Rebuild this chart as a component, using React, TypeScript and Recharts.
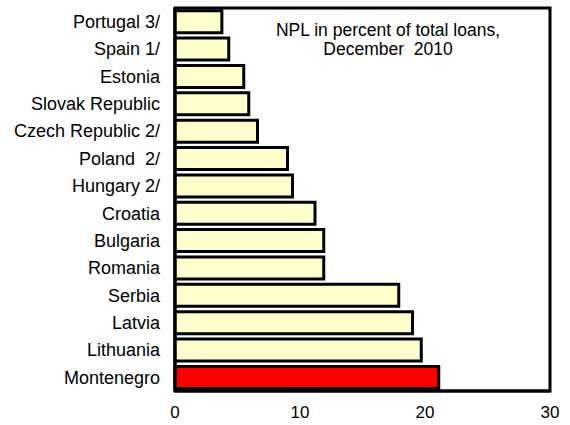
import React from "react";
import {
  Bar,
  BarChart,
  Cell,
  ReferenceArea,
  XAxis,
  YAxis,
} from "recharts";

const countries = [
  "Portugal 3/",
  "Spain 1/",
  "Estonia",
  "Slovak Republic",
  "Czech Republic 2/",
  "Poland\u00a0 2/",
  "Hungary 2/",
  "Croatia",
  "Bulgaria",
  "Romania",
  "Serbia",
  "Latvia",
  "Lithuania",
  "Montenegro",
];
const nplValues = [3.75, 4.3, 5.5, 5.9, 6.6, 9.0, 9.4, 11.2, 11.9, 11.9, 17.9, 19.0, 19.7, 21.1];
const xTicks = [0, 10, 20, 30];
const highlighted = "Montenegro";

const data = countries.map((country, i) => ({ country, npl: nplValues[i] }));

const font = "'Liberation Sans', Arial, sans-serif";

export default function App() {
  return (
    <div style={{ position: "absolute", left: 0, top: 0, width: 570, height: 425, background: "#fff", fontFamily: font }}>
      <BarChart
        width={570}
        height={425}
        data={data}
        layout="vertical"
        margin={{ top: 8, right: 20, bottom: 4, left: 10 }}
        barCategoryGap="10%"
      >
        <XAxis
          type="number"
          domain={[0, 30]}
          ticks={xTicks}
          height={30}
          axisLine={{ stroke: "#000", strokeWidth: 3 }}
          tickLine={{ stroke: "#000", strokeWidth: 2 }}
          tickSize={-4}
          tickMargin={19}
          tick={{ fill: "#000", fontSize: 17, fontFamily: font }}
        />
        <YAxis
          type="category"
          dataKey="country"
          width={165}
          axisLine={{ stroke: "#000", strokeWidth: 3 }}
          tickLine={false}
          tickMargin={9}
          interval={0}
          tick={{ fill: "#000", fontSize: 18, fontFamily: font }}
        />
        <ReferenceArea x1={0} x2={30} fill="none" stroke="#000" strokeWidth={3} ifOverflow="visible" />
        <Bar dataKey="npl" stroke="#000" strokeWidth={3} isAnimationActive={false}>
          {data.map((d) => (
            <Cell key={d.country} fill={d.country === highlighted ? "#FF0000" : "#FFFFCC"} />
          ))}
        </Bar>
      </BarChart>
      <div
        style={{
          position: "absolute",
          left: 238,
          top: 21,
          width: 300,
          textAlign: "center",
          fontSize: 17.5,
          lineHeight: "19px",
          color: "#000",
        }}
      >
        NPL in percent of total loans,
        <br />
        December&nbsp; 2010
      </div>
    </div>
  );
}
